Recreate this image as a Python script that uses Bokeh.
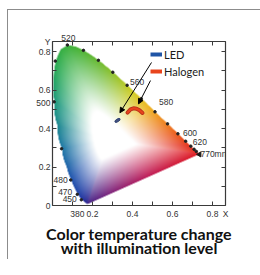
import numpy as np
from bokeh.plotting import figure
from bokeh.models import (Range1d, LinearAxis, FixedTicker, Label, Legend,
                          LegendItem, Arrow, NormalHead)
from bokeh.embed import file_html
from bokeh.resources import INLINE

# ---------------- data ----------------
# CIE 1931 spectral locus (wavelength nm, chromaticity x, y)
wavelengths = [380, 390, 400, 410, 420, 430, 440, 450, 455, 460, 465, 470, 475,
               480, 485, 490, 495, 500, 505, 510, 515, 520, 525, 530, 535, 540,
               545, 550, 555, 560, 565, 570, 575, 580, 585, 590, 595, 600, 605,
               610, 615, 620, 630, 640, 650, 660, 680, 700, 770]
locus_x = [0.1741, 0.1738, 0.1733, 0.1726, 0.1714, 0.1689, 0.1644, 0.1566, 0.1510,
           0.1440, 0.1355, 0.1241, 0.1096, 0.0913, 0.0687, 0.0454, 0.0235, 0.0082,
           0.0039, 0.0139, 0.0389, 0.0743, 0.1142, 0.1547, 0.1929, 0.2296, 0.2658,
           0.3016, 0.3373, 0.3731, 0.4087, 0.4441, 0.4788, 0.5125, 0.5448, 0.5752,
           0.6029, 0.6270, 0.6482, 0.6658, 0.6801, 0.6915, 0.7079, 0.7190, 0.7260,
           0.7300, 0.7334, 0.7347, 0.7347]
locus_y = [0.0050, 0.0049, 0.0048, 0.0048, 0.0051, 0.0069, 0.0109, 0.0177, 0.0227,
           0.0297, 0.0399, 0.0578, 0.0868, 0.1327, 0.2007, 0.2950, 0.4127, 0.5384,
           0.6548, 0.7502, 0.8120, 0.8338, 0.8262, 0.8059, 0.7816, 0.7543, 0.7243,
           0.6923, 0.6589, 0.6245, 0.5896, 0.5547, 0.5202, 0.4866, 0.4544, 0.4242,
           0.3965, 0.3725, 0.3514, 0.3340, 0.3197, 0.3083, 0.2920, 0.2809, 0.2740,
           0.2700, 0.2666, 0.2653, 0.2653]

inner_labelled_wavelengths = [450, 470, 480, 560, 580, 600, 620, 770]
inner_wavelength_texts = ["450", "470", "480", "560", "580", "600", "620", "770mn"]

# measured chromaticities
led_x = [0.325]
led_y = [0.442]
halogen_x = [0.375, 0.39, 0.405, 0.42, 0.435, 0.45]
halogen_y = [0.483, 0.499, 0.505, 0.503, 0.495, 0.481]

x_ticks = [0.1, 0.2, 0.3, 0.4, 0.5, 0.6, 0.7, 0.8]
y_ticks = [0.1, 0.2, 0.3, 0.4, 0.5, 0.6, 0.7, 0.8]
x_tick_labels = {0.2: "0.2", 0.4: "0.4", 0.6: "0.6", 0.8: "0.8"}
y_tick_labels = {0.0: "0", 0.2: "0.2", 0.4: "0.4", 0.6: "0.6", 0.8: "0.8"}

title_lines = ["Color temperature change", "with illumination level"]
legend_labels = ["LED", "Halogen"]

# ---------------- styles ----------------
XMAX, YMAX = 0.865, 0.852
LED_COLOR = "#1f55a6"
HAL_COLOR = "#e8441c"
AXIS_COLOR = "#3a3a3a"
TXT_COLOR = "#333333"
SMALL_FONT = "Liberation Sans"
MAIN_FONT = "Lato"
PX_X = 200.0   # pixels per x unit
PX_Y = 192.5   # pixels per y unit

# hand-read edge colours of the diagram (by wavelength)
edge_stops = [(380, "#4a2a8c"), (445, "#2b2d96"), (465, "#243ea6"), (480, "#2356b0"),
              (490, "#1f78a6"), (500, "#1f9a80"), (507, "#27aa5a"), (515, "#38b046"),
              (525, "#48b43a"), (540, "#6cbb34"), (555, "#a4c62c"), (565, "#d2cd24"),
              (575, "#eeb824"), (585, "#ef9022"), (600, "#ec5e1e"), (620, "#e5341f"),
              (700, "#e01e26")]
purple_stops = [(0.0, "#e01e26"), (0.45, "#c0205a"), (0.8, "#80287e"), (1.0, "#4a2a8c")]


def hex_rgb(h):
    return np.array([int(h[i:i + 2], 16) for i in (1, 3, 5)], dtype=float) / 255.0


def interp_stops(t, stops):
    ts = [s[0] for s in stops]
    cs = np.array([hex_rgb(s[1]) for s in stops])
    return np.array([np.interp(t, ts, cs[:, k]) for k in range(3)])


def locus_point(w):
    i = wavelengths.index(w)
    return locus_x[i], locus_y[i]


# ---------------- colour image of the gamut ----------------
wl_arr = np.array(wavelengths[:-1], dtype=float)
bx = list(locus_x[:-1])
by = list(locus_y[:-1])
bc = [interp_stops(w, edge_stops) for w in wl_arr]
n_p = 40
for i in range(1, n_p):
    t = i / n_p
    bx.append(locus_x[-2] + (locus_x[0] - locus_x[-2]) * t)
    by.append(locus_y[-2] + (locus_y[0] - locus_y[-2]) * t)
    bc.append(interp_stops(t, purple_stops))
bx = np.array(bx); by = np.array(by); bc = np.array(bc)

wx, wy = 0.28, 0.34
ang = np.arctan2(by - wy, bx - wx)
rad = np.hypot(bx - wx, by - wy)
order = np.argsort(ang)
ang, rad, bc = ang[order], rad[order], bc[order]
ang, uidx = np.unique(ang, return_index=True)
rad, bc = rad[uidx], bc[uidx]
ang_e = np.concatenate([[ang[-1] - 2 * np.pi], ang, [ang[0] + 2 * np.pi]])
rad_e = np.concatenate([[rad[-1]], rad, [rad[0]]])
bc_e = np.concatenate([bc[-1:], bc, bc[:1]])

nx, ny = 346, 328
gx = (np.arange(nx) + 0.5) / nx * XMAX
gy = (np.arange(ny) + 0.5) / ny * YMAX
GX, GY = np.meshgrid(gx, gy)
th = np.arctan2(GY - wy, GX - wx)
rr = np.hypot(GX - wx, GY - wy)
R = np.interp(th, ang_e, rad_e)
s = rr / R
edge = np.stack([np.interp(th, ang_e, bc_e[:, k]) for k in range(3)], axis=-1)
f = np.clip((s - 0.3) / 0.68, 0, 1) ** 1.05
col = 1.0 - (1.0 - edge) * f[..., None]
alpha = np.clip((1.0 - s) * 120.0, 0, 1)

img = np.zeros((ny, nx), dtype=np.uint32)
view = img.view(dtype=np.uint8).reshape((ny, nx, 4))
view[..., 0] = (col[..., 0] * 255).astype(np.uint8)
view[..., 1] = (col[..., 1] * 255).astype(np.uint8)
view[..., 2] = (col[..., 2] * 255).astype(np.uint8)
view[..., 3] = (alpha * 255).astype(np.uint8)

# ---------------- figure ----------------
p = figure(frame_width=173, frame_height=164, x_range=Range1d(0, XMAX), y_range=Range1d(0, YMAX),
           output_backend="svg", toolbar_location=None,
           x_axis_location=None, y_axis_location=None,
           min_border_left=44, min_border_right=35, min_border_top=31, min_border_bottom=20)
p.xgrid.visible = False
p.ygrid.visible = False
p.outline_line_color = AXIS_COLOR
p.background_fill_color = "white"
p.border_fill_color = "white"
p.styles = {"margin-left": "7px", "margin-top": "9px",
            "border-left": "1px solid #8c8c8c", "border-top": "1px solid #8c8c8c"}

p.image_rgba(image=[img], x=0, y=0, dw=XMAX, dh=YMAX)

# locus dots every 10 nm
dot_x = [x for w, x in zip(wavelengths, locus_x) if w % 10 == 0 and 460 <= w <= 640]
dot_y = [y for w, y in zip(wavelengths, locus_y) if w % 10 == 0 and 460 <= w <= 640]
p.scatter(dot_x, dot_y, size=2.5, color="#222222")
p.scatter([locus_x[-1]], [locus_y[-1]], size=5, color="#1a1a1a", marker="triangle", angle=1.57)

# measurements
p.ellipse(x=led_x, y=led_y, width=0.03, height=0.014, angle=0.55,
          fill_color="#2f3f72", line_color="#2f3f72", fill_alpha=0.9)
p.line(halogen_x, halogen_y, line_color="#b8301a", line_width=4, line_cap="round")
p.line(halogen_x, halogen_y, line_color=HAL_COLOR, line_width=2.2, line_cap="round")

# arrows from legend to marks
p.add_layout(Arrow(end=NormalHead(size=5, fill_color="black", line_color="black"),
                   x_start=0.495, y_start=0.743, x_end=led_x[0] + 0.012, y_end=led_y[0] + 0.04,
                   line_color="black", line_width=1))
p.add_layout(Arrow(end=NormalHead(size=5, fill_color="black", line_color="black"),
                   x_start=0.49, y_start=0.649, x_end=halogen_x[3] + 0.01, y_end=halogen_y[3] + 0.025,
                   line_color="black", line_width=1))

# legend
led_key = p.line(x=[np.nan, np.nan], y=[np.nan, np.nan], line_color=LED_COLOR, line_width=4)
hal_key = p.line(x=[np.nan, np.nan], y=[np.nan, np.nan], line_color=HAL_COLOR, line_width=4)
legend = Legend(items=[LegendItem(label=legend_labels[0], renderers=[led_key]),
                       LegendItem(label=legend_labels[1], renderers=[hal_key])],
                location=(98, 127), orientation="vertical", padding=0, margin=0, spacing=3,
                glyph_width=12, glyph_height=14, label_height=14, label_standoff=2,
                border_line_color=None, background_fill_alpha=0,
                label_text_font=MAIN_FONT, label_text_font_size="11px",
                label_text_color="#1a1a1a")
p.add_layout(legend)

# wavelength label positions that sit outside the frame (via axes)
x380, _ = locus_point(380)
_, y500 = locus_point(500)
x520, _ = locus_point(520)
pos_380 = round(x380 - 10 / PX_X, 4)
pos_500 = round(y500 - 1 / PX_Y, 4)
pos_520 = round(x520 + 1 / PX_X, 4)

axis_kw = dict(axis_line_color=AXIS_COLOR, axis_line_width=1.2,
               major_tick_in=0, major_tick_out=0, minor_tick_in=4, minor_tick_out=0,
               major_tick_line_color=None, minor_tick_line_color=AXIS_COLOR,
               major_label_text_font=SMALL_FONT, major_label_text_font_size="8.5px",
               major_label_text_color=TXT_COLOR)

xb_major = [pos_380] + list(x_tick_labels.keys()) + [XMAX]
xb_over = {pos_380: "380", **x_tick_labels, XMAX: "X"}
xb = LinearAxis(ticker=FixedTicker(ticks=xb_major, minor_ticks=x_ticks),
                major_label_overrides=xb_over, major_label_standoff=3, **axis_kw)
# the two-line caption under the chart, as the bottom axis label
xb.axis_label = "\n".join(title_lines)
xb.axis_label_standoff = 2
xb.axis_label_text_font = MAIN_FONT
xb.axis_label_text_font_style = "bold"
xb.axis_label_text_font_size = "16px"
xb.axis_label_text_color = "#111111"
xb.axis_label_text_line_height = 0.76
p.add_layout(xb, "below")

yl_major = list(y_tick_labels.keys()) + [pos_500, YMAX]
yl_over = {**y_tick_labels, pos_500: "500", YMAX: "Y"}
yl = LinearAxis(ticker=FixedTicker(ticks=yl_major, minor_ticks=y_ticks),
                major_label_overrides=yl_over, major_label_standoff=2, **axis_kw)
p.add_layout(yl, "left")

xt = LinearAxis(ticker=FixedTicker(ticks=[pos_520], minor_ticks=x_ticks),
                major_label_overrides={pos_520: "520"}, major_label_standoff=1, **axis_kw)
p.add_layout(xt, "above")
yr = LinearAxis(ticker=FixedTicker(ticks=[], minor_ticks=y_ticks), **axis_kw)
p.add_layout(yr, "right")

# wavelength labels inside the frame: (dx px, dy px, align) relative to locus point
label_offsets = {450: (-7, -3, "right"), 470: (-5, -2, "right"), 480: (-3, 0, "right"),
                 560: (3, -3, "left"), 580: (4, -10, "left"), 600: (5, -1, "left"),
                 620: (2, -4, "left"), 770: (1, 0, "left")}
for w, txt in zip(inner_labelled_wavelengths, inner_wavelength_texts):
    lx, ly = locus_point(w)
    dx, dy, al = label_offsets[w]
    p.add_layout(Label(x=lx + dx / PX_X, y=ly - dy / PX_Y, text=txt,
                       text_align=al, text_baseline="middle", text_font=SMALL_FONT,
                       text_font_size="8.5px", text_color=TXT_COLOR))

open("out.html", "w").write(file_html(p, INLINE))
